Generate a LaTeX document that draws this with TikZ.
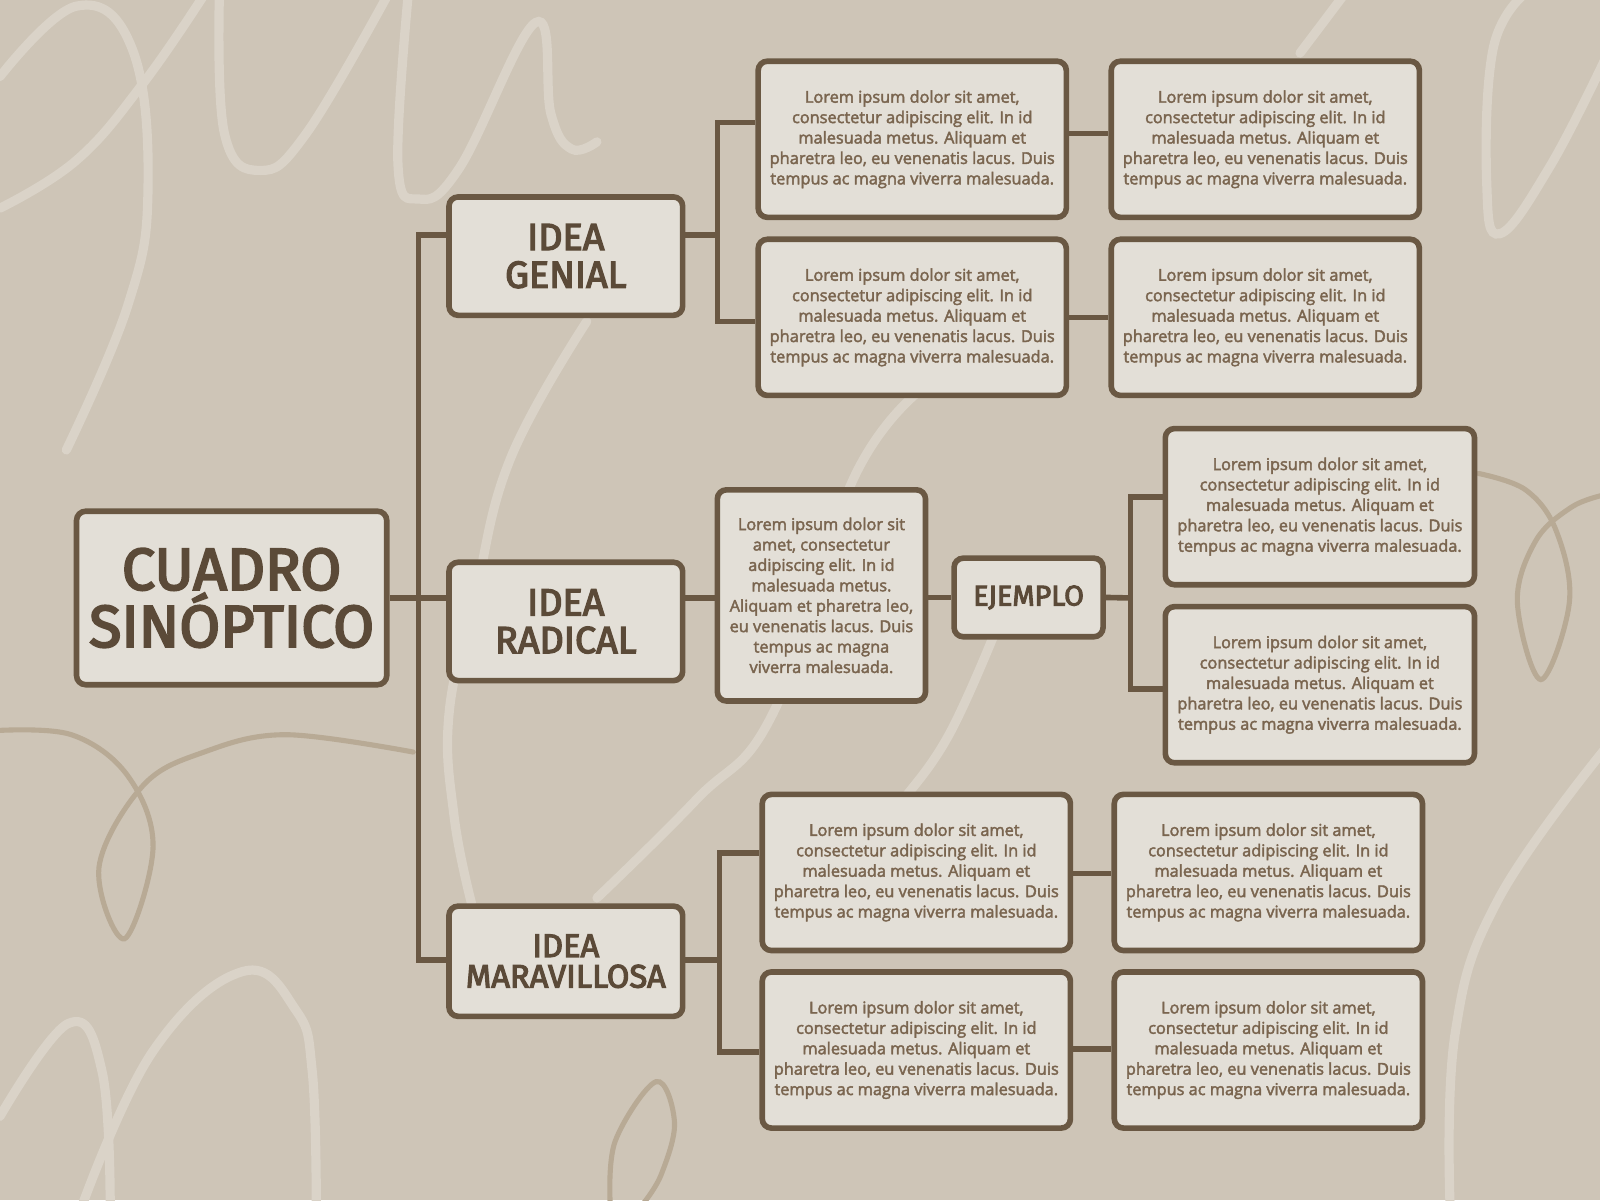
\documentclass[tikz,border=0pt]{standalone}
\usepackage{fontspec}
\setmainfont[FakeBold=2.5]{Open Sans}
\newfontfamily\titlefont[FakeBold=3.5]{Fira Sans}
\definecolor{bg}{HTML}{CEC5B7}
\definecolor{boxf}{HTML}{E3DFD7}
\definecolor{brd}{HTML}{6A5843}
\definecolor{titc}{HTML}{5B4A38}
\definecolor{bodyc}{HTML}{7A654F}
\definecolor{swlight}{HTML}{DAD3C8}
\definecolor{swdark}{HTML}{B8AA95}
\begin{document}
\begin{tikzpicture}[x=1pt,y=-1pt,
  box/.style={draw=brd, fill=boxf, line width=5.5pt, rounded corners=9pt, inner sep=0pt, align=center},
  body/.style={box, text=bodyc, font=\fontsize{16}{20}\selectfont, minimum width=302pt, minimum height=153pt},
  title/.style={box, text=titc, font=\titlefont\fontsize{37}{37}\selectfont},
  link/.style={draw=brd, line width=5.5pt},
  swl/.style={draw=swlight, line width=9pt, line cap=round},
  swd/.style={draw=swdark, line width=5pt, line cap=round}]
\useasboundingbox (0,0) rectangle (1568,1176);
\fill[bg] (0,0) rectangle (1568,1176);
% background swirls
\draw[swl] plot[smooth, tension=0.7] coordinates {(0,75) (75,6) (130,49) (145,188) (125,300) (65,441)};
\draw[swl] plot[smooth, tension=0.7] coordinates {(0,204) (75,157) (140,82) (200,-5)};
\draw[swl] plot[smooth, tension=0.7] coordinates {(215,-5) (220,131) (255,167) (300,131) (380,-5)};
\draw[swl] plot[smooth, tension=0.7] coordinates {(400,-5) (390,161) (410,195) (450,165) (525,22) (540,112) (560,146) (585,139)};
\draw[swl] plot[smooth, tension=0.7] coordinates {(575,315) (500,450) (465,588) (440,700) (445,800) (462,885)};
\draw[swl] plot[smooth, tension=0.7] coordinates {(905,380) (836,470) (759,696) (682,784) (585,880)};
\draw[swl] plot[smooth, tension=0.7] coordinates {(975,620) (930,720) (885,784) (870,800)};
\draw[swl] plot[smooth, tension=0.7] coordinates {(0,1094) (67,1003) (100,1050) (108,1180)};
\draw[swl] plot[smooth, tension=0.7] coordinates {(81,1180) (150,1030) (238,952) (290,990) (306,1050) (310,1180)};
\draw[swl] plot[smooth, tension=0.7] coordinates {(1493,-5) (1463,49) (1457,180) (1470,229) (1519,163) (1572,60)};
\draw[swl] plot[smooth, tension=0.7] coordinates {(1317,-5) (1274,52)};
\draw[swl] plot[smooth, tension=0.7] coordinates {(1572,735) (1468,882) (1426,1013) (1421,1180)};
\draw[swd] plot[smooth, tension=0.6] coordinates {(-5,716) (70,720) (125,760) (150,830) (122,920) (97,850) (140,770) (200,737) (280,720) (405,737)};
\draw[swd] plot[smooth, tension=0.6] coordinates {(1449,464) (1495,480) (1525,520) (1538,590) (1510,666) (1487,590) (1505,530) (1540,497) (1572,485)};
\draw[swd] plot[smooth, tension=0.6] coordinates {(598,1180) (603,1118) (643,1060) (661,1100) (648,1151) (630,1180)};
% nodes
\node[title, minimum width=304pt, minimum height=170pt, font=\titlefont\fontsize{58}{56}\selectfont] (cuadro) at (227,586) {CUADRO\\SINÓPTICO};
\node[title, minimum width=229pt, minimum height=116pt] (genial) at (554.5,251) {IDEA\\GENIAL};
\node[title, minimum width=229pt, minimum height=116pt] (radical) at (554.5,609) {IDEA\\RADICAL};
\node[title, minimum width=229pt, minimum height=108pt, font=\titlefont\fontsize{32}{30}\selectfont] (marav) at (554.5,942) {IDEA\\MARAVILLOSA};
\newcommand{\lorem}{Lorem ipsum dolor sit amet,\\consectetur adipiscing elit. In id\\malesuada metus. Aliquam et\\pharetra leo, eu venenatis lacus. Duis\\tempus ac magna viverra malesuada.}
\node[body] (g1) at (894,136.5) {\lorem};
\node[body] (g2) at (894,311) {\lorem};
\node[body] (g1b) at (1240,136.5) {\lorem};
\node[body] (g2b) at (1240,311) {\lorem};
\node[body, minimum width=204pt, minimum height=207pt] (r1) at (805,583.5) {Lorem ipsum dolor sit\\amet, consectetur\\adipiscing elit. In id\\malesuada metus.\\Aliquam et pharetra leo,\\eu venenatis lacus. Duis\\tempus ac magna\\viverra malesuada.};
\node[title, minimum width=146pt, minimum height=77pt, font=\titlefont\fontsize{28}{30}\selectfont] (ej) at (1008,585.5) {EJEMPLO};
\node[body, minimum width=303pt] (e1) at (1293.5,496.5) {\lorem};
\node[body, minimum width=303pt] (e2) at (1293.5,671) {\lorem};
\node[body] (m1) at (898,855) {\lorem};
\node[body] (m2) at (898,1029) {\lorem};
\node[body] (m1b) at (1243,855) {\lorem};
\node[body] (m2b) at (1243,1029) {\lorem};
% connectors
\coordinate (t1) at (410,230);
\coordinate (t3) at (410,941);
\draw[link] (cuadro.east) -- (radical.west |- cuadro.east);
\draw[link] (genial.west |- t1) -- (t1) -- (t3) -- (marav.west |- t3);
\coordinate (ga) at (703,230);
\draw[link] (genial.east |- ga) -- (ga);
\draw[link] (g1.west |- 0,120) -| (ga |- 0,120) |- (g2.west |- 0,315);
\draw[link] (g1.east |- 0,131) -- (g1b.west |- 0,131);
\draw[link] (g2.east |- 0,311) -- (g2b.west |- 0,311);
\draw[link] (radical.east |- cuadro.east) -- (r1.west |- cuadro.east);
\draw[link] (r1.east |- ej.west) -- (ej.west);
\coordinate (ea) at (1108,586);
\draw[link] (ej.east) -- (ea);
\draw[link] (e1.west |- 0,487) -| (ea |- 0,487) |- (e2.west |- 0,675);
\coordinate (ma) at (705,941);
\draw[link] (marav.east |- ma) -- (ma);
\draw[link] (m1.west |- 0,836) -| (ma |- 0,836) |- (m2.west |- 0,1031);
\draw[link] (m1.east |- 0,856) -- (m1b.west |- 0,856);
\draw[link] (m2.east |- 0,1028) -- (m2b.west |- 0,1028);
\end{tikzpicture}
\end{document}
